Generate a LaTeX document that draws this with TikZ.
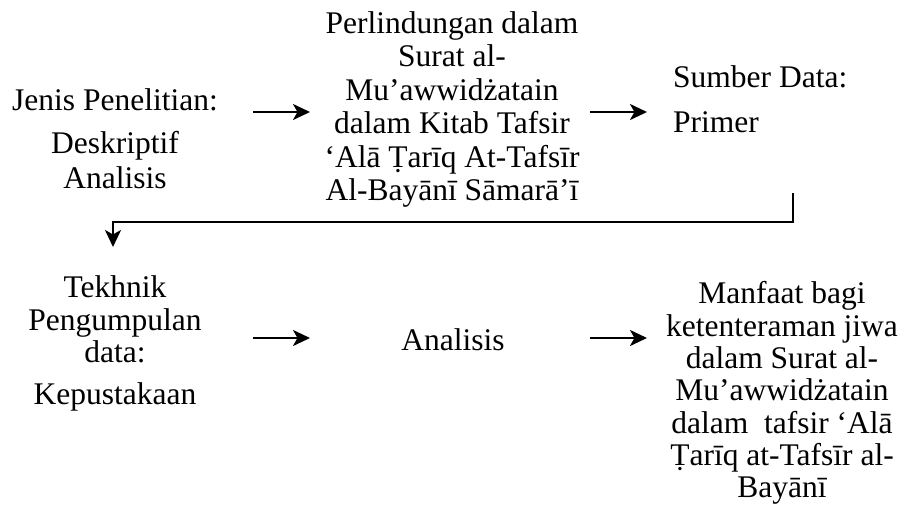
\documentclass[tikz,border=0pt]{standalone}
\usepackage{fontspec}
\setmainfont{Liberation Serif}
\usetikzlibrary{arrows.meta}
\begin{document}
\begin{tikzpicture}[x=1pt,y=-1pt,
  txt/.style={inner sep=0pt, align=center, font=\fontsize{31.5}{33}\selectfont},
  arr/.style={line width=2.4pt, -{Stealth[length=17pt,width=16pt,inset=4.5pt]}}]
\fill[white] (0,0) rectangle (906,507);
\path[use as bounding box] (0,0) rectangle (906,507);
% top row
\node[txt, anchor=base] (jenis) at (115,110) {Jenis Penelitian:};
\node[txt, anchor=north, font=\fontsize{31.5}{35}\selectfont] (desk) at (115,131.5) {Deskriptif\\Analisis};
\node[txt, anchor=north, font=\fontsize{31.5}{33.4}\selectfont] (perl) at (452,11.5)
  {Perlindungan dalam\\Surat al-\\Mu’awwidżatain\\dalam Kitab Tafsir\\‘Alā Ṭarīq At-Tafsīr\\Al-Bayānī Sāmarā’ī};
\node[txt, anchor=base west] (sumber) at (673,87) {Sumber Data:};
\node[txt, anchor=base west] (primer) at (673,132) {Primer};
% bottom row
\node[txt, anchor=north, font=\fontsize{31.5}{32.5}\selectfont] (tek) at (115,275.5) {Tekhnik\\Pengumpulan\\data:};
\node[txt, anchor=base] (kep) at (115,404) {Kepustakaan};
\node[txt, anchor=base] (anal) at (453,350) {Analisis};
\node[txt, anchor=north, font=\fontsize{31.5}{32.3}\selectfont] (manf) at (782,281.5)
  {Manfaat bagi\\ketenteraman jiwa\\dalam Surat al-\\Mu’awwidżatain\\dalam\ \ tafsir ‘Alā\\Ṭarīq at-Tafsīr al-\\Bayānī};
% connectors
\coordinate (a1s) at (253,112); \coordinate (a1e) at (310,112);
\coordinate (a2s) at (590,112); \coordinate (a2e) at (647,112);
\coordinate (a3s) at (253,338); \coordinate (a3e) at (310,338);
\coordinate (a4s) at (590,338); \coordinate (a4e) at (647,338);
\coordinate (e1) at (793,193); \coordinate (e2) at (113,222); \coordinate (e3) at (113,247);
\draw[arr] (a1s) -- (a1e);
\draw[arr] (a2s) -- (a2e);
\draw[arr] (a3s) -- (a3e);
\draw[arr] (a4s) -- (a4e);
\draw[arr] (e1) |- (e2) -- (e3);
\end{tikzpicture}
\end{document}
